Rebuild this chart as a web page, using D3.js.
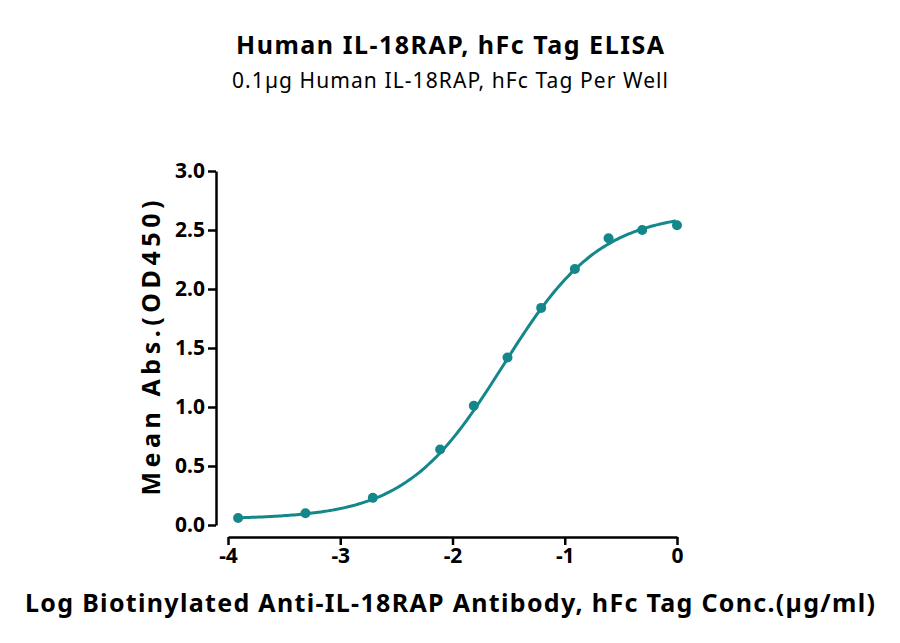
<!DOCTYPE html>
<html><head><meta charset="utf-8">
<script src="https://cdn.jsdelivr.net/npm/d3@7"></script>
<style>body{margin:0;background:#fff}text{font-family:"Source Sans Pro","Noto Sans",sans-serif}</style>
</head><body>
<svg width="900" height="643"></svg>
<script>
const logConc = [-3.91, -3.31, -2.71, -2.11, -1.81, -1.51, -1.21, -0.91, -0.61, -0.31, 0];
const od450 = [0.06, 0.10, 0.23, 0.64, 1.01, 1.42, 1.84, 2.17, 2.43, 2.50, 2.54];
const xTicks = [-4, -3, -2, -1, 0];
const yTicks = [0, 0.5, 1, 1.5, 2, 2.5, 3];
// 4PL fit parameters
const fit = { bottom: 0.05, top: 2.65, logEC50: -1.55, hill: 1.0 };

const svg = d3.select("svg");
const color = "#14878a";
const x = d3.scaleLinear().domain([-4, 0]).range([228, 677]);
const y = d3.scaleLinear().domain([0, 3]).range([525, 171]);

svg.append("text").attr("x", 450).attr("y", 54).attr("text-anchor", "middle")
  .attr("font-size", 25).attr("font-weight", "bold").attr("textLength", 428).text("Human IL-18RAP, hFc Tag ELISA");
svg.append("text").attr("x", 450).attr("y", 88).attr("text-anchor", "middle")
  .attr("font-size", 21).attr("textLength", 436).text("0.1µg Human IL-18RAP, hFc Tag Per Well");

const xAxis = svg.append("g").attr("transform", "translate(0,537)")
  .call(d3.axisBottom(x).tickValues(xTicks).tickFormat(d => d === 0 ? "0" : "-" + Math.abs(d)).tickSize(8).tickSizeOuter(0));
const yAxis = svg.append("g").attr("transform", "translate(216,0)")
  .call(d3.axisLeft(y).tickValues(yTicks).tickFormat(d3.format(".1f")).tickSize(8).tickSizeOuter(0));
[xAxis, yAxis].forEach(g => {
  g.selectAll("path,line").attr("stroke", "#000").attr("stroke-width", 2.5);
  g.selectAll("text").attr("font-size", 21).attr("font-weight", "bold").attr("fill", "#000");
});

svg.append("text").attr("transform", "translate(160,348) rotate(-90)").attr("text-anchor", "middle")
  .attr("font-size", 25).attr("font-weight", "bold").attr("textLength", 295).text("Mean Abs.(OD450)");
svg.append("text").attr("x", 450).attr("y", 612).attr("text-anchor", "middle")
  .attr("font-size", 25).attr("font-weight", "bold").attr("textLength", 850).text("Log Biotinylated Anti-IL-18RAP Antibody, hFc Tag Conc.(µg/ml)");

const f = v => fit.bottom + (fit.top - fit.bottom) / (1 + Math.pow(10, (fit.logEC50 - v) * fit.hill));
const xs = d3.range(-3.91, 0.0001, 0.02);
svg.append("path").datum(xs).attr("fill", "none").attr("stroke", color).attr("stroke-width", 3)
  .attr("d", d3.line().x(d => x(d)).y(d => y(f(d))).curve(d3.curveBasis));

svg.selectAll(".dot").data(logConc).enter().append("circle")
  .attr("cx", d => x(d)).attr("cy", (d, i) => y(od450[i])).attr("r", 5).attr("fill", color);
</script>
</body></html>
